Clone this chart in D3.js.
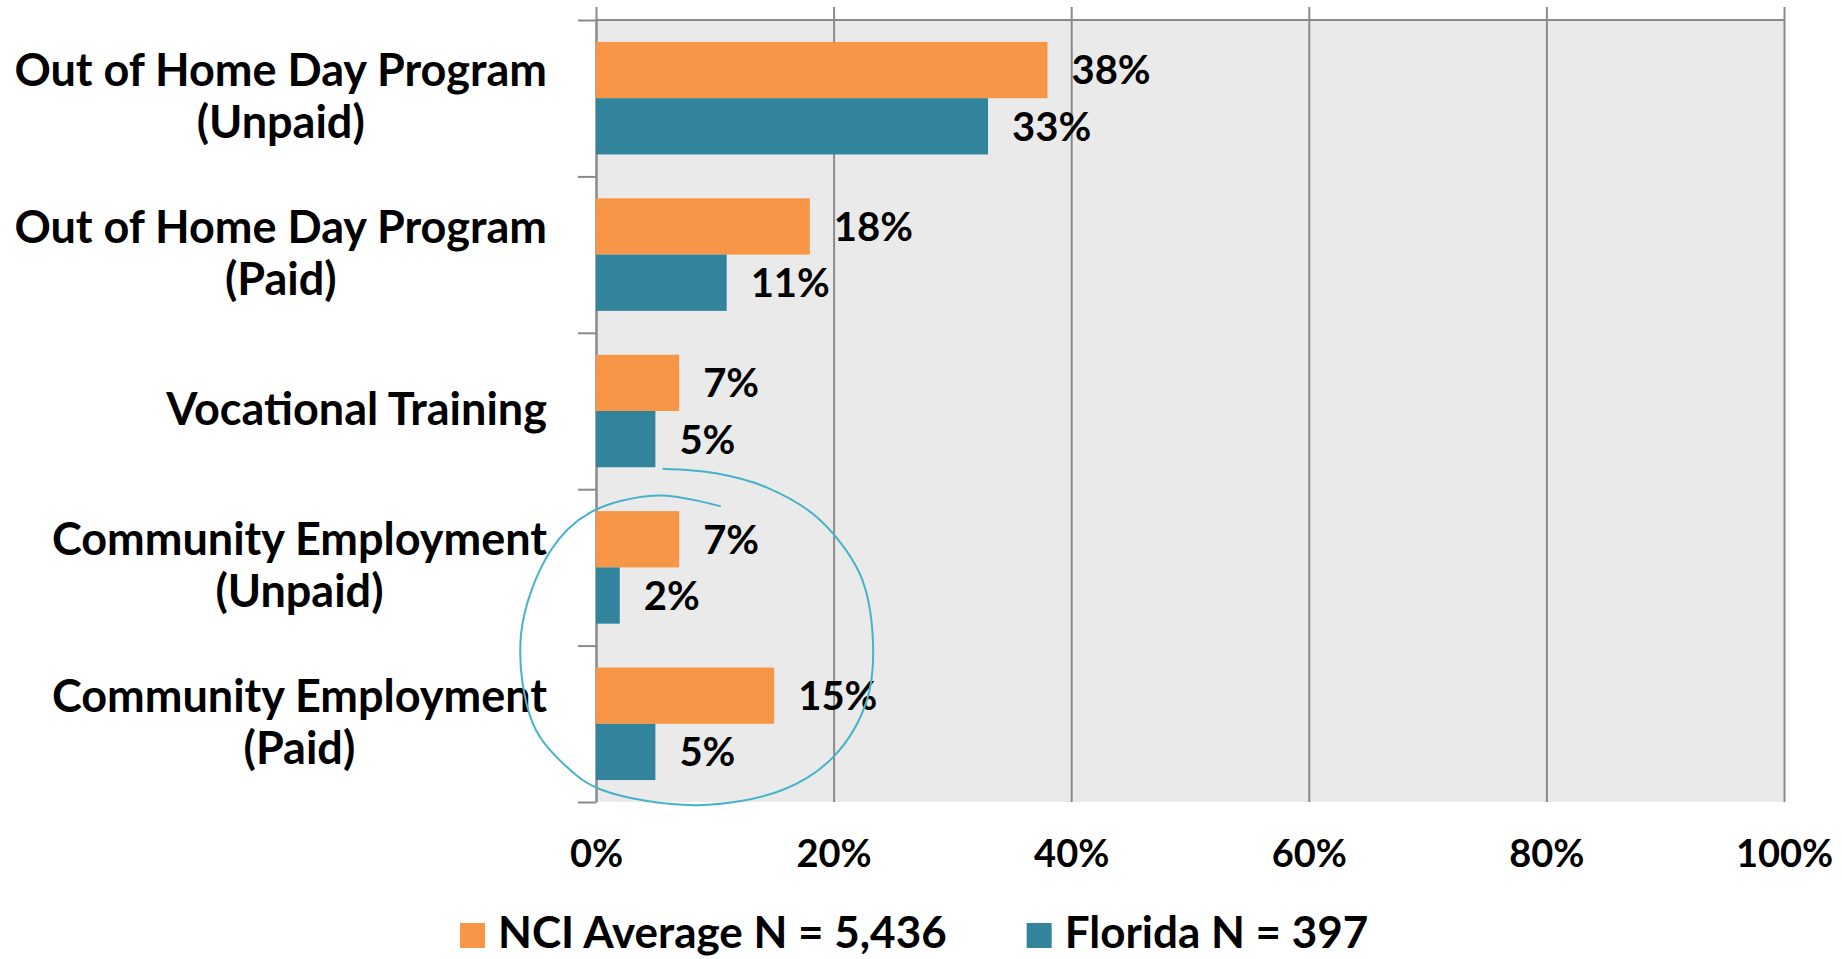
<!DOCTYPE html>
<html>
<head>
<meta charset="utf-8">
<script src="https://cdn.jsdelivr.net/npm/d3@7"></script>
<style>
  body { margin: 0; background: #fff; }
  svg text { font-family: Lato, "Open Sans", sans-serif; font-weight: 700; fill: #000; }
</style>
</head>
<body>
<div class="chart"></div>
<script>
const w = 1842;
const h = 959;

// data
const categories = [
  ['Out of Home Day Program', '(Unpaid)'],
  ['Out of Home Day Program', '(Paid)'],
  ['Vocational Training'],
  ['Community Employment', '(Unpaid)'],
  ['Community Employment', '(Paid)']
];
const seriesNames = ['NCI Average N = 5,436', 'Florida N = 397'];
const nciValues = [38, 18, 7, 7, 15];
const floridaValues = [33, 11, 5, 2, 5];
const xTicks = [0, 20, 40, 60, 80, 100];
const colors = ['#F79646', '#31849B'];

// hand drawn ring around the community employment rows, [percent, row position]
const ringPoints = [
  [10.5, 3.11], [5.2, 3.04], [-0.5, 3.15], [-3.8, 3.39], [-6.3, 3.92],
  [-5.3, 4.5], [-2.4, 4.78], [0.4, 4.92], [8.5, 5.02], [15.8, 4.92],
  [20.0, 4.71], [22.8, 4.35], [23.3, 3.95], [22.2, 3.54], [18.6, 3.18],
  [14.4, 2.99], [10.2, 2.9], [5.6, 2.87]
];

const plotLeft = 596;
const plotRight = 1784;
const plotTop = 20;
const plotBottom = 802;

const svg = d3.select('.chart')
  .append('svg')
  .attr('width', w)
  .attr('height', h);

const xScale = d3.scaleLinear().domain([0, 100]).range([plotLeft, plotRight]);

const yScale = d3.scaleBand()
  .domain(d3.range(categories.length))
  .range([plotTop, plotBottom]);

const ySub = d3.scaleBand()
  .domain([0, 1])
  .range([0, yScale.bandwidth()])
  .paddingOuter(0.39);

// row edges, used for the left axis ticks and the ring
const yEdge = d3.scaleLinear().domain([0, categories.length]).range([plotTop, plotBottom]);

// plot background
svg.append('rect')
  .attr('x', plotLeft)
  .attr('y', plotTop)
  .attr('width', plotRight - plotLeft)
  .attr('height', plotBottom - plotTop)
  .attr('fill', '#EAEAEA');

// vertical grid lines + bottom tick labels
const xAxis = d3.axisBottom(xScale)
  .tickValues(xTicks)
  .tickSize(-(plotBottom - plotTop + 13))
  .tickPadding(38)
  .tickFormat((d) => d + '%');

const gx = svg.append('g')
  .attr('transform', `translate(0,${plotBottom})`)
  .call(xAxis);
gx.select('.domain').remove();
gx.selectAll('line').attr('stroke', '#8a8a8a').attr('stroke-width', 2);
gx.selectAll('text').attr('font-size', 38).attr('fill', '#000');

// top line
svg.append('line')
  .attr('x1', plotLeft)
  .attr('x2', plotRight)
  .attr('y1', plotTop)
  .attr('y2', plotTop)
  .attr('stroke', '#8a8a8a')
  .attr('stroke-width', 2);

// left axis with ticks between the rows
const yAxis = d3.axisLeft(yEdge)
  .ticks(categories.length)
  .tickSize(18)
  .tickSizeOuter(0)
  .tickFormat('');
const gy = svg.append('g')
  .attr('transform', `translate(${plotLeft},0)`)
  .call(yAxis);
gy.selectAll('path, line').attr('stroke', '#8a8a8a').attr('stroke-width', 2);

// bars
const rows = categories.map((c, i) => ({
  i,
  values: [nciValues[i], floridaValues[i]]
}));

const rowG = svg.selectAll('.row')
  .data(rows)
  .enter()
  .append('g')
  .attr('class', 'row')
  .attr('transform', (d) => `translate(0,${yScale(d.i)})`);

rowG.selectAll('rect')
  .data((d) => d.values)
  .enter()
  .append('rect')
  .attr('x', xScale(0))
  .attr('y', (d, j) => ySub(j))
  .attr('width', (d) => xScale(d) - xScale(0))
  .attr('height', ySub.bandwidth())
  .attr('fill', (d, j) => colors[j]);

rowG.selectAll('.val')
  .data((d) => d.values)
  .enter()
  .append('text')
  .attr('class', 'val')
  .attr('x', (d) => xScale(d) + 24)
  .attr('y', (d, j) => ySub(j) + ySub.bandwidth() / 2)
  .attr('dy', '0.36em')
  .attr('font-size', 40)
  .text((d) => Math.round(d) + '%');

// category labels, right aligned block with centred lines
const labelRight = 547;
const lineGap = 52;
categories.forEach((lines, i) => {
  const cy = yScale(i) + yScale.bandwidth() / 2;
  const g = svg.append('g');
  const first = g.append('text')
    .attr('font-size', 45)
    .attr('text-anchor', 'end')
    .attr('x', labelRight)
    .text(lines[0]);
  const wid = first.node().getComputedTextLength();
  const n = lines.length;
  lines.forEach((t, k) => {
    const yy = cy + (k - (n - 1) / 2) * lineGap + 14;
    if (k === 0) {
      first.attr('y', yy);
    } else {
      g.append('text')
        .attr('font-size', 45)
        .attr('text-anchor', 'middle')
        .attr('x', labelRight - wid / 2)
        .attr('y', yy)
        .text(t);
    }
  });
});

// ring annotation
const ring = d3.line()
  .x((d) => xScale(d[0]))
  .y((d) => yEdge(d[1]))
  .curve(d3.curveCatmullRom);

svg.append('path')
  .attr('d', ring(ringPoints))
  .attr('fill', 'none')
  .attr('stroke', '#45B3CA')
  .attr('stroke-width', 2);

// legend
const legend = svg.append('g').attr('transform', 'translate(460,0)');
let lx = 0;
seriesNames.forEach((name, j) => {
  legend.append('rect')
    .attr('x', lx)
    .attr('y', 923)
    .attr('width', 25)
    .attr('height', 25)
    .attr('fill', colors[j]);
  const t = legend.append('text')
    .attr('x', lx + 38)
    .attr('y', 948)
    .attr('font-size', 44)
    .text(name);
  lx += 38 + t.node().getComputedTextLength() + 80;
});
</script>
</body>
</html>
